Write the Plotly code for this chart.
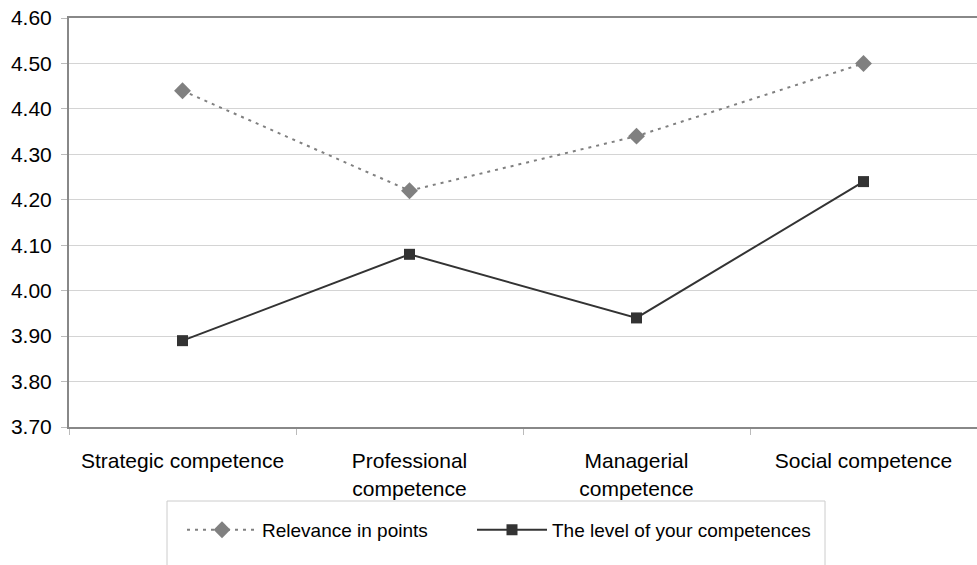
import plotly.graph_objects as go

categories = ["Strategic competence", "Professional<br>competence", "Managerial<br>competence", "Social competence"]
relevance = [4.44, 4.22, 4.34, 4.50]
level = [3.89, 4.08, 3.94, 4.24]
yticks = [3.70, 3.80, 3.90, 4.00, 4.10, 4.20, 4.30, 4.40, 4.50, 4.60]

fig = go.Figure()
fig.add_trace(go.Scatter(
    x=categories, y=relevance, name="Relevance in points", mode="lines+markers",
    line=dict(color="#808080", width=2, dash="3px,5px"),
    marker=dict(symbol="diamond", size=13, color="#808080"),
    legend="legend",
))
fig.add_trace(go.Scatter(
    x=categories, y=level, name="The level of your competences", mode="lines+markers",
    line=dict(color="#333333", width=2),
    marker=dict(symbol="square", size=11, color="#333333"),
    legend="legend2",
))

font = "Liberation Sans, Arial, sans-serif"
legend_common = dict(orientation="h", xanchor="left", y=-0.205, yanchor="top",
                     bgcolor="rgba(0,0,0,0)", font=dict(size=19), itemwidth=70)
fig.update_layout(
    width=977, height=565,
    margin=dict(l=69, r=0, t=18, b=138),
    paper_bgcolor="white", plot_bgcolor="white",
    font=dict(family=font, size=21, color="black"),
    showlegend=True,
    legend=dict(x=(182 - 69) / 908, **legend_common),
    legend2=dict(x=(472 - 69) / 908, **legend_common),
    xaxis=dict(
        type="category", range=[-0.5, 3.5],
        showline=True, linecolor="#888888", linewidth=2, mirror=True,
        ticks="outside", tickson="boundaries", ticklen=6, tickcolor="#bbbbbb",
        showgrid=False, tickfont=dict(size=21), ticklabelstandoff=14,
    ),
    yaxis=dict(
        range=[3.70, 4.60], tickvals=yticks, tickformat=".2f",
        showline=True, linecolor="#888888", linewidth=2,
        ticks="outside", ticklen=6, tickcolor="#bbbbbb",
        showgrid=True, gridcolor="#d4d4d4", gridwidth=1,
        tickfont=dict(size=21), zeroline=False, ticklabelstandoff=5,
    ),
    shapes=[dict(type="rect", xref="paper", yref="paper",
                 x0=(167 - 69) / 908, x1=(825 - 69) / 908,
                 y0=(427 - 566) / 409, y1=(427 - 501) / 409,
                 line=dict(color="#cccccc", width=1))],
)

fig.write_html("out.html")
